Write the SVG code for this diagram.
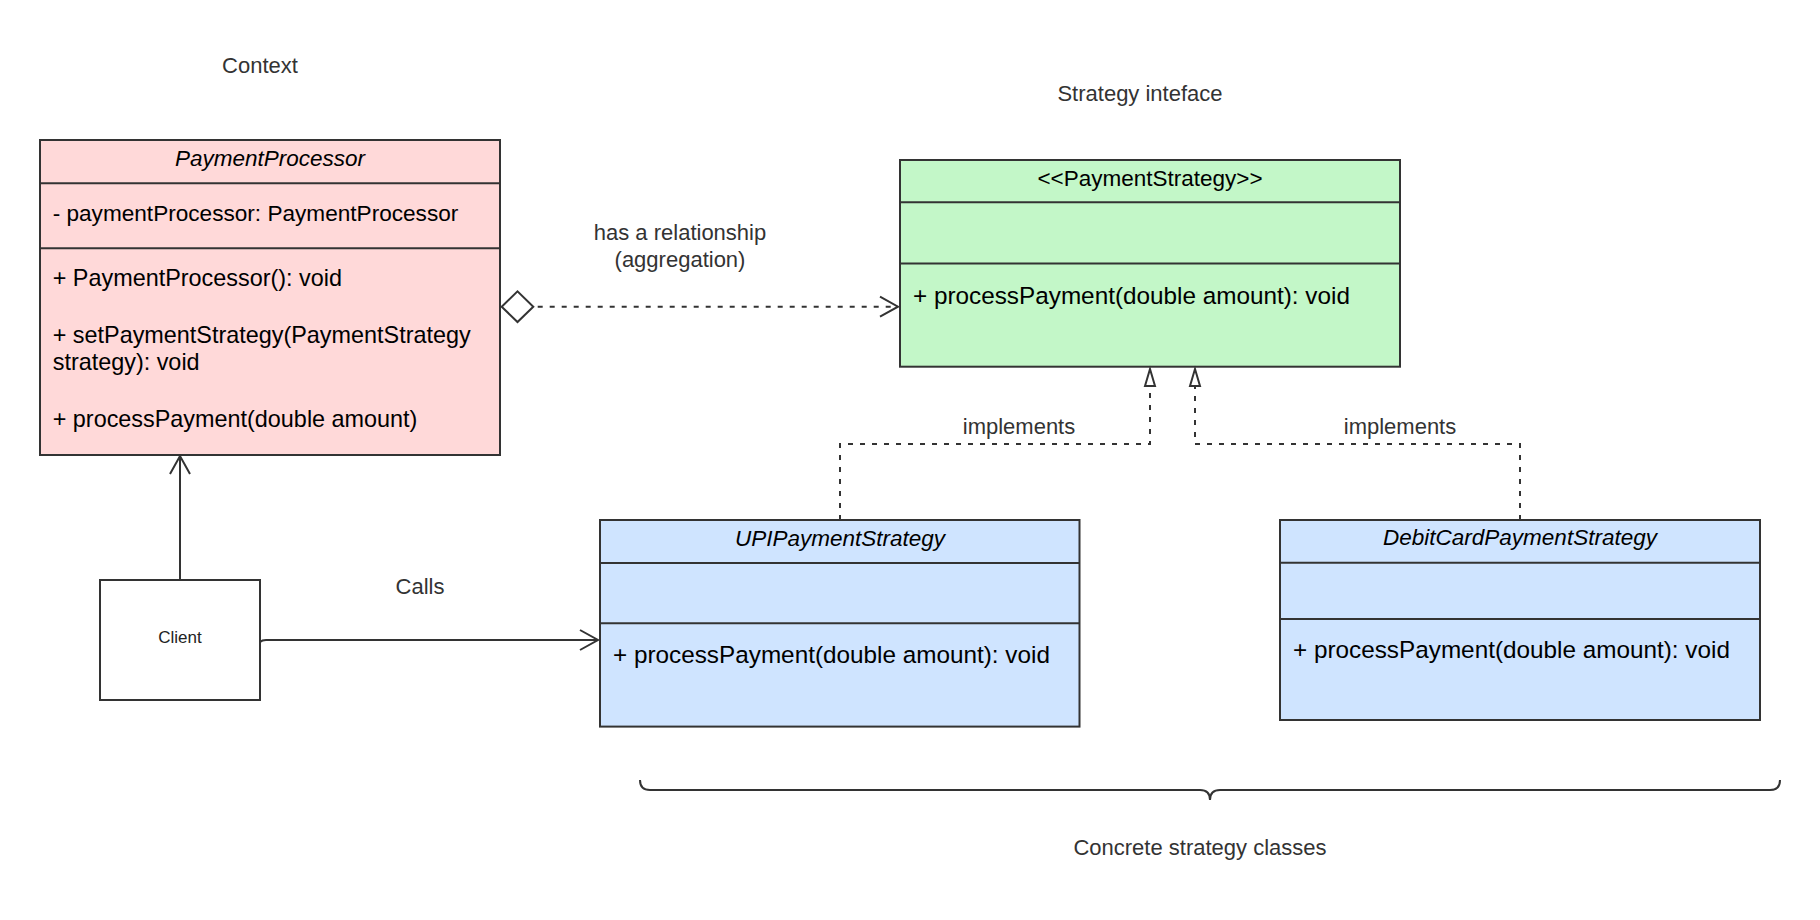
<svg xmlns="http://www.w3.org/2000/svg" width="1820" height="920" viewBox="0 0 1820 920">
  <style>
    text { font-family: "Liberation Sans", Arial, sans-serif; }
    .lbl { font-size: 22px; fill: #333333; }
    .ttl { font-size: 22.5px; fill: #000000; }
    .it { font-style: italic; }
    .body { font-size: 23.4px; fill: #000000; }
    .attr { font-size: 22.6px; fill: #000000; }
    .mth { font-size: 24.3px; fill: #000000; }
    .box { stroke: #333333; stroke-width: 2; }
    .div { stroke: #333333; stroke-width: 2; fill: none; }
    .pink { fill: #ffd9d9; }
    .green { fill: #c3f7c8; }
    .blue { fill: #cfe4ff; }
    .conn { fill: none; stroke: #333333; stroke-width: 2; }
    .dash { stroke-dasharray: 5 7; }
  </style>
  <defs>
    <marker id="chev" markerUnits="userSpaceOnUse" markerWidth="24" markerHeight="24" refX="18" refY="0" orient="auto" overflow="visible">
      <path d="M0,-10 L18,0 L0,10" fill="none" stroke="#333333" stroke-width="2" stroke-dasharray="none"/>
    </marker>
    <marker id="diam" markerUnits="userSpaceOnUse" markerWidth="34" markerHeight="34" refX="0" refY="0" orient="auto" overflow="visible">
      <path d="M0,0 L15.8,-15.3 L31.6,0 L15.8,15.3 Z" fill="#ffffff" stroke="#333333" stroke-width="2" stroke-dasharray="none"/>
    </marker>
    <marker id="tri" markerUnits="userSpaceOnUse" markerWidth="20" markerHeight="12" refX="0" refY="0" orient="auto" overflow="visible">
      <path d="M0,-5 L17,0 L0,5 Z" fill="#ffffff" stroke="#333333" stroke-width="2" stroke-dasharray="none"/>
    </marker>
  </defs>

  <rect width="1820" height="920" fill="#ffffff"/>

  <g id="labels">
    <text class="lbl" x="260" y="73" text-anchor="middle">Context</text>
    <text class="lbl" x="1140" y="101" text-anchor="middle">Strategy inteface</text>
    <text class="lbl" x="680" y="240" text-anchor="middle">has a relationship</text>
    <text class="lbl" x="680" y="267" text-anchor="middle">(aggregation)</text>
    <text class="lbl" x="1019" y="434" text-anchor="middle">implements</text>
    <text class="lbl" x="1400" y="434" text-anchor="middle">implements</text>
    <text class="lbl" x="420" y="594" text-anchor="middle">Calls</text>
    <text class="lbl" x="1200" y="855" text-anchor="middle">Concrete strategy classes</text>
  </g>

  <g id="PaymentProcessor">
    <rect class="box pink" x="40" y="140" width="460" height="315"/>
    <line class="div" x1="40" y1="183.3" x2="500" y2="183.3"/>
    <line class="div" x1="40" y1="248.3" x2="500" y2="248.3"/>
    <text class="ttl it" x="270" y="166" text-anchor="middle">PaymentProcessor</text>
    <text class="attr" x="52.7" y="221">- paymentProcessor: PaymentProcessor</text>
    <text class="body" x="52.7" y="286">+ PaymentProcessor(): void</text>
    <text class="body" x="52.7" y="343">+ setPaymentStrategy(PaymentStrategy</text>
    <text class="body" x="52.7" y="370">strategy): void</text>
    <text class="body" x="52.7" y="427">+ processPayment(double amount)</text>
  </g>

  <g id="PaymentStrategy">
    <rect class="box green" x="900" y="160" width="500" height="206.7"/>
    <line class="div" x1="900" y1="202.3" x2="1400" y2="202.3"/>
    <line class="div" x1="900" y1="263.4" x2="1400" y2="263.4"/>
    <text class="ttl" x="1150" y="186" text-anchor="middle">&lt;&lt;PaymentStrategy&gt;&gt;</text>
    <text class="mth" x="913" y="304">+ processPayment(double amount): void</text>
  </g>

  <g id="UPIPaymentStrategy">
    <rect class="box blue" x="600" y="520" width="479.5" height="206.6"/>
    <line class="div" x1="600" y1="563" x2="1079.5" y2="563"/>
    <line class="div" x1="600" y1="623.3" x2="1079.5" y2="623.3"/>
    <text class="ttl it" x="840" y="546" text-anchor="middle">UPIPaymentStrategy</text>
    <text class="mth" x="613" y="663">+ processPayment(double amount): void</text>
  </g>

  <g id="DebitCardPaymentStrategy">
    <rect class="box blue" x="1280" y="520" width="480" height="200"/>
    <line class="div" x1="1280" y1="562.7" x2="1760" y2="562.7"/>
    <line class="div" x1="1280" y1="619" x2="1760" y2="619"/>
    <text class="ttl it" x="1520" y="545" text-anchor="middle">DebitCardPaymentStrategy</text>
    <text class="mth" x="1293" y="657.7">+ processPayment(double amount): void</text>
  </g>

  <g id="Client">
    <rect class="box" fill="#ffffff" x="100" y="580" width="160" height="120"/>
    <text x="180" y="642.5" text-anchor="middle" font-size="17" fill="#222222">Client</text>
  </g>

  <g id="connectors">
    <path class="conn dash" d="M501.7,306.7 L898,306.7" marker-start="url(#diam)" marker-end="url(#chev)"/>
    <path class="conn dash" d="M840,520 V444 H1150 V386" marker-end="url(#tri)"/>
    <path class="conn dash" d="M1520,520 V444 H1195 V386" marker-end="url(#tri)"/>
    <path class="conn" d="M180,580 V456" marker-end="url(#chev)"/>
    <path class="conn" d="M260,642 Q262,640 266,640 L598,640" marker-end="url(#chev)"/>
    <path class="conn" d="M640,780 Q640,790 650,790 L1200,790 Q1210,790 1210,800 Q1210,790 1220,790 L1770,790 Q1780,790 1780,780"/>
  </g>
</svg>
